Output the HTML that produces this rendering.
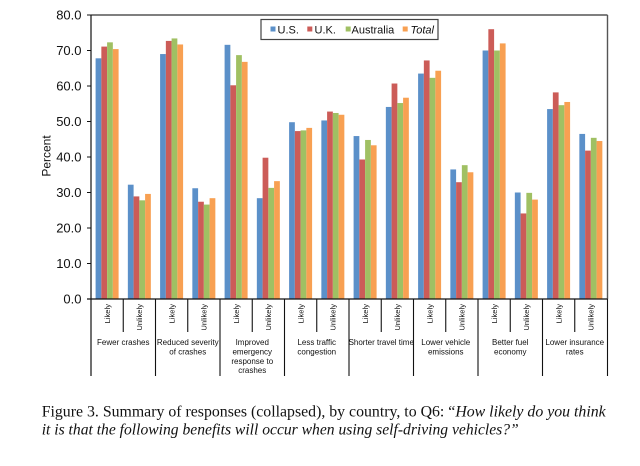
<!DOCTYPE html>
<html><head><meta charset="utf-8"><style>
html,body{margin:0;padding:0;background:#fff;}
svg{display:block;}
.a{font-family:"Liberation Sans",Arial,sans-serif;fill:#111;}
.s{font-family:"Liberation Serif","Times New Roman",serif;fill:#111;}
.b{fill:#5b90c9}.r{fill:#cc5c58}.g{fill:#a0c063}.o{fill:#f8a052}
</style></head><body>
<svg width="640" height="466" viewBox="0 0 640 466" xmlns="http://www.w3.org/2000/svg">
<rect width="640" height="466" fill="#fff"/>
<!-- bars -->
<g transform="translate(0,299) scale(1,-3.55)">
<g transform="translate(95.6,0)"><rect class="b" x="0" width="5.75" height="67.8"/><rect class="r" x="5.75" width="5.75" height="71.1"/><rect class="g" x="11.5" width="5.75" height="72.3"/><rect class="o" x="17.25" width="5.75" height="70.4"/></g>
<g transform="translate(127.85,0)"><rect class="b" x="0" width="5.75" height="32.2"/><rect class="r" x="5.75" width="5.75" height="28.9"/><rect class="g" x="11.5" width="5.75" height="27.8"/><rect class="o" x="17.25" width="5.75" height="29.6"/></g>
<g transform="translate(160.1,0)"><rect class="b" x="0" width="5.75" height="69.0"/><rect class="r" x="5.75" width="5.75" height="72.7"/><rect class="g" x="11.5" width="5.75" height="73.4"/><rect class="o" x="17.25" width="5.75" height="71.7"/></g>
<g transform="translate(192.35,0)"><rect class="b" x="0" width="5.75" height="31.2"/><rect class="r" x="5.75" width="5.75" height="27.4"/><rect class="g" x="11.5" width="5.75" height="26.6"/><rect class="o" x="17.25" width="5.75" height="28.4"/></g>
<g transform="translate(224.6,0)"><rect class="b" x="0" width="5.75" height="71.6"/><rect class="r" x="5.75" width="5.75" height="60.2"/><rect class="g" x="11.5" width="5.75" height="68.7"/><rect class="o" x="17.25" width="5.75" height="66.8"/></g>
<g transform="translate(256.85,0)"><rect class="b" x="0" width="5.75" height="28.4"/><rect class="r" x="5.75" width="5.75" height="39.8"/><rect class="g" x="11.5" width="5.75" height="31.3"/><rect class="o" x="17.25" width="5.75" height="33.2"/></g>
<g transform="translate(289.1,0)"><rect class="b" x="0" width="5.75" height="49.8"/><rect class="r" x="5.75" width="5.75" height="47.3"/><rect class="g" x="11.5" width="5.75" height="47.5"/><rect class="o" x="17.25" width="5.75" height="48.2"/></g>
<g transform="translate(321.35,0)"><rect class="b" x="0" width="5.75" height="50.3"/><rect class="r" x="5.75" width="5.75" height="52.8"/><rect class="g" x="11.5" width="5.75" height="52.4"/><rect class="o" x="17.25" width="5.75" height="51.9"/></g>
<g transform="translate(353.6,0)"><rect class="b" x="0" width="5.75" height="45.9"/><rect class="r" x="5.75" width="5.75" height="39.3"/><rect class="g" x="11.5" width="5.75" height="44.8"/><rect class="o" x="17.25" width="5.75" height="43.3"/></g>
<g transform="translate(385.85,0)"><rect class="b" x="0" width="5.75" height="54.1"/><rect class="r" x="5.75" width="5.75" height="60.7"/><rect class="g" x="11.5" width="5.75" height="55.2"/><rect class="o" x="17.25" width="5.75" height="56.7"/></g>
<g transform="translate(418.1,0)"><rect class="b" x="0" width="5.75" height="63.5"/><rect class="r" x="5.75" width="5.75" height="67.2"/><rect class="g" x="11.5" width="5.75" height="62.3"/><rect class="o" x="17.25" width="5.75" height="64.3"/></g>
<g transform="translate(450.35,0)"><rect class="b" x="0" width="5.75" height="36.5"/><rect class="r" x="5.75" width="5.75" height="32.9"/><rect class="g" x="11.5" width="5.75" height="37.7"/><rect class="o" x="17.25" width="5.75" height="35.7"/></g>
<g transform="translate(482.6,0)"><rect class="b" x="0" width="5.75" height="70.0"/><rect class="r" x="5.75" width="5.75" height="76.0"/><rect class="g" x="11.5" width="5.75" height="70.0"/><rect class="o" x="17.25" width="5.75" height="72.0"/></g>
<g transform="translate(514.85,0)"><rect class="b" x="0" width="5.75" height="30.0"/><rect class="r" x="5.75" width="5.75" height="24.1"/><rect class="g" x="11.5" width="5.75" height="29.9"/><rect class="o" x="17.25" width="5.75" height="28.0"/></g>
<g transform="translate(547.1,0)"><rect class="b" x="0" width="5.75" height="53.5"/><rect class="r" x="5.75" width="5.75" height="58.2"/><rect class="g" x="11.5" width="5.75" height="54.6"/><rect class="o" x="17.25" width="5.75" height="55.5"/></g>
<g transform="translate(579.35,0)"><rect class="b" x="0" width="5.75" height="46.5"/><rect class="r" x="5.75" width="5.75" height="41.8"/><rect class="g" x="11.5" width="5.75" height="45.4"/><rect class="o" x="17.25" width="5.75" height="44.5"/></g>
</g>

<!-- plot frame -->
<line x1="91" y1="15" x2="607.5" y2="15" stroke="#555" stroke-width="1.4"/>
<line x1="607.5" y1="15" x2="607.5" y2="299" stroke="#555" stroke-width="1.4"/>
<line x1="91" y1="15" x2="91" y2="376" stroke="#111" stroke-width="1.2"/>
<line x1="87" y1="299" x2="607.5" y2="299" stroke="#111" stroke-width="1.2"/>

<!-- y ticks -->
<g stroke="#111" stroke-width="1">
<line x1="87" y1="15" x2="91" y2="15"/><line x1="87" y1="50.5" x2="91" y2="50.5"/><line x1="87" y1="86" x2="91" y2="86"/><line x1="87" y1="121.5" x2="91" y2="121.5"/><line x1="87" y1="157" x2="91" y2="157"/><line x1="87" y1="192.5" x2="91" y2="192.5"/><line x1="87" y1="228" x2="91" y2="228"/><line x1="87" y1="263.5" x2="91" y2="263.5"/>
</g>
<g class="a" font-size="13" text-anchor="end">
<text x="81.5" y="19.6">80.0</text>
<text x="81.5" y="55.1">70.0</text>
<text x="81.5" y="90.6">60.0</text>
<text x="81.5" y="126.1">50.0</text>
<text x="81.5" y="161.6">40.0</text>
<text x="81.5" y="197.1">30.0</text>
<text x="81.5" y="232.6">20.0</text>
<text x="81.5" y="268.1">10.0</text>
<text x="81.5" y="303.6">0.0</text>
</g>
<text class="a" font-size="12" text-anchor="middle" transform="translate(50.5,156) rotate(-90)">Percent</text>

<!-- x category separators -->
<g stroke="#111" stroke-width="1.1">
<line x1="123.25" y1="299" x2="123.25" y2="332"/>
<line x1="155.5" y1="299" x2="155.5" y2="376"/>
<line x1="187.75" y1="299" x2="187.75" y2="332"/>
<line x1="220" y1="299" x2="220" y2="376"/>
<line x1="252.25" y1="299" x2="252.25" y2="332"/>
<line x1="284.5" y1="299" x2="284.5" y2="376"/>
<line x1="316.75" y1="299" x2="316.75" y2="332"/>
<line x1="349" y1="299" x2="349" y2="376"/>
<line x1="381.25" y1="299" x2="381.25" y2="332"/>
<line x1="413.5" y1="299" x2="413.5" y2="376"/>
<line x1="445.75" y1="299" x2="445.75" y2="332"/>
<line x1="478" y1="299" x2="478" y2="376"/>
<line x1="510.25" y1="299" x2="510.25" y2="332"/>
<line x1="542.5" y1="299" x2="542.5" y2="376"/>
<line x1="574.75" y1="299" x2="574.75" y2="332"/>
<line x1="607.5" y1="299" x2="607.5" y2="376"/>
</g>

<!-- Likely / Unlikely labels -->
<g class="a" font-size="7.6" text-anchor="end">
<text transform="translate(109.9,304) rotate(-90)">Likely</text>
<text transform="translate(142.2,304) rotate(-90)">Unlikely</text>
<text transform="translate(174.4,304) rotate(-90)">Likely</text>
<text transform="translate(206.7,304) rotate(-90)">Unlikely</text>
<text transform="translate(238.9,304) rotate(-90)">Likely</text>
<text transform="translate(271.2,304) rotate(-90)">Unlikely</text>
<text transform="translate(303.4,304) rotate(-90)">Likely</text>
<text transform="translate(335.7,304) rotate(-90)">Unlikely</text>
<text transform="translate(367.9,304) rotate(-90)">Likely</text>
<text transform="translate(400.2,304) rotate(-90)">Unlikely</text>
<text transform="translate(432.4,304) rotate(-90)">Likely</text>
<text transform="translate(464.7,304) rotate(-90)">Unlikely</text>
<text transform="translate(496.9,304) rotate(-90)">Likely</text>
<text transform="translate(529.2,304) rotate(-90)">Unlikely</text>
<text transform="translate(561.4,304) rotate(-90)">Likely</text>
<text transform="translate(593.7,304) rotate(-90)">Unlikely</text>
</g>

<!-- group labels -->
<g class="a" font-size="8" text-anchor="middle">
<text x="123.25" y="345.2">Fewer crashes</text>
<text x="187.75" y="345.2">Reduced severity</text>
<text x="187.75" y="354.6">of crashes</text>
<text x="252.25" y="345.2">Improved</text>
<text x="252.25" y="354.6">emergency</text>
<text x="252.25" y="363.9">response to</text>
<text x="252.25" y="373.2">crashes</text>
<text x="316.75" y="345.2">Less traffic</text>
<text x="316.75" y="354.6">congestion</text>
<text x="381.25" y="345.2">Shorter travel time</text>
<text x="445.75" y="345.2">Lower vehicle</text>
<text x="445.75" y="354.6">emissions</text>
<text x="510.25" y="345.2">Better fuel</text>
<text x="510.25" y="354.6">economy</text>
<text x="574.75" y="345.2">Lower insurance</text>
<text x="574.75" y="354.6">rates</text>
</g>

<!-- legend -->
<rect x="261" y="19.5" width="177" height="20" fill="#fff" stroke="#444" stroke-width="1.2"/>
<rect class="b" x="270.5" y="26.5" width="5" height="5"/>
<rect class="r" x="307.3" y="26.5" width="5" height="5"/>
<rect class="g" x="345.7" y="26.5" width="5" height="5"/>
<rect class="o" x="402.7" y="26.5" width="5" height="5"/>
<g class="a" font-size="11">
<text x="277.5" y="33.3">U.S.</text>
<text x="314.5" y="33.3">U.K.</text>
<text x="351.5" y="33.3">Australia</text>
<text x="410.5" y="33.3" font-style="italic">Total</text>
</g>

<!-- caption -->
<text class="s" font-size="16" x="41.7" y="416.7" textLength="564" lengthAdjust="spacingAndGlyphs">Figure 3.  Summary of responses (collapsed), by country, to Q6: “<tspan font-style="italic">How likely do you think</tspan></text>
<text class="s" font-size="16" x="41.7" y="434.3" font-style="italic" textLength="477" lengthAdjust="spacingAndGlyphs">it is that the following benefits will occur when using self-driving vehicles?”</text>
</svg>
</body></html>
